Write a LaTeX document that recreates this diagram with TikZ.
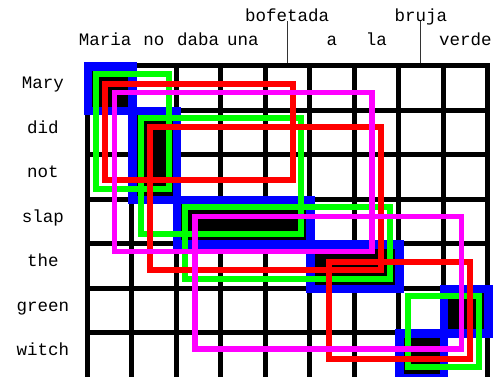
\documentclass[tikz,border=0pt]{standalone}
\usepackage{fontspec}
\setmonofont{Liberation Mono}
\usetikzlibrary{positioning}
\definecolor{phblue}{RGB}{0,0,255}
\definecolor{phgreen}{RGB}{0,255,0}
\definecolor{phred}{RGB}{255,0,0}
\definecolor{phmagenta}{RGB}{255,0,255}

\begin{document}
\begin{tikzpicture}[x=1pt,y=-1pt,line join=miter,
  word/.style={font=\ttfamily\fontsize{17.5}{20}\selectfont,inner sep=0pt,anchor=base},
  gridline/.style={line width=5pt,line cap=rect},
  minbox/.style={draw=phblue,line width=8.5pt},
  grnbox/.style={draw=phgreen,line width=6pt},
  redbox/.style={draw=phred,line width=6pt},
  magbox/.style={draw=phmagenta,line width=5.5pt}]
  \useasboundingbox (0,0) rectangle (495,376);
  \def\cs{44.5}
  \def\ox{87}
  \def\oy{65.5}
  % alignment points
  \foreach \r/\c in {0/0,1/1,2/1,3/2,3/3,3/4,4/5,4/6,5/8,6/7}
    \fill (\ox+\c*\cs,\oy+\r*\cs) rectangle ++(\cs,\cs);
  \foreach \i in {0,...,9}
    \draw[gridline] (\ox+\i*\cs,\oy) -- (\ox+\i*\cs,\oy+7*\cs);
  \foreach \j in {0,...,6}
    \draw[gridline] (\ox,\oy+\j*\cs) -- (\ox+9*\cs,\oy+\j*\cs);
  % phrase pairs
  \foreach \ra/\ca/\rb/\cb in {0/0/1/1,1/1/3/2,3/2/4/5,4/5/5/7,5/8/6/9,6/7/7/8}
    \draw[minbox] (\ox+\ca*\cs+1,\oy+\ra*\cs+1) rectangle (\ox+\cb*\cs+1,\oy+\rb*\cs+1);
  \draw[grnbox] (96,73.5) rectangle (169,188.5);
  \draw[grnbox] (140.5,118) rectangle (300.5,233.5);
  \draw[grnbox] (184.5,207) rectangle (390,278.5);
  \draw[grnbox] (408,296) rectangle (479,366.5);
  \draw[redbox] (105,83.5) rectangle (292.5,180);
  \draw[redbox] (150,126.5) rectangle (380.5,270);
  \draw[redbox] (328.5,261.5) rectangle (470,358.5);
  \draw[magbox] (114.5,92.5) rectangle (372,251.5);
  \draw[magbox] (195,216.5) rectangle (461.5,349);
  % English words
  \foreach \w [count=\j from 0] in {Mary,did,not,slap,the,green,witch}
    \node[word] (\w) at (43,\oy+\j*\cs+23.25) {\w};
  % Spanish words
  \foreach \w/\c in {no/1,daba/2,una/3,a/5,la/6,verde/8}
    \node[word] (\w) at (\ox+\c*\cs+\cs/2,45) {\w};
  \node[word] (Maria) at (\ox+\cs/2-4,45) {Maria};
  \coordinate (colbof) at (\ox+4.5*\cs,\oy-2.5);
  \coordinate (colbru) at (\ox+7.5*\cs,\oy-2.5);
  \node[word] (bofetada) at (colbof |- 0,21) {bofetada};
  \node[word] (bruja) at (colbru |- 0,21) {bruja};
  \draw[black!80,line width=0.8pt] (bofetada.south) -- (colbof);
  \draw[black!80,line width=0.8pt] (bruja.base) -- (colbru);
\end{tikzpicture}
\end{document}
